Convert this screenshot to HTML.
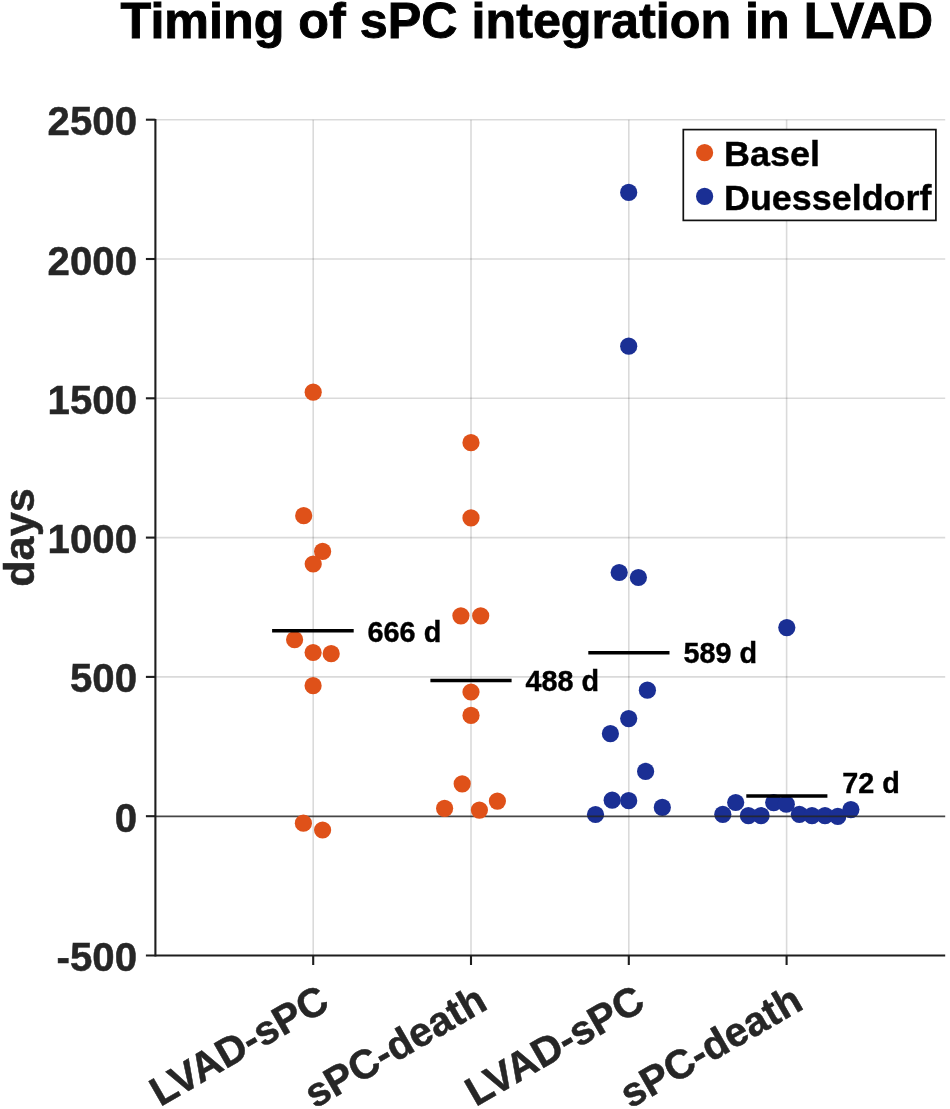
<!DOCTYPE html>
<html lang="en"><head><meta charset="utf-8"><title>Timing of sPC integration in LVAD</title>
<style>html,body{margin:0;padding:0;background:#fff}body{width:950px;height:1109px;overflow:hidden}svg{display:block}text{font-family:"Liberation Sans",Arial,Helvetica,sans-serif;font-weight:bold}</style></head><body>
<svg width="950" height="1109" viewBox="0 0 950 1109">
<rect width="950" height="1109" fill="#fff"/>
<text x="120.6" y="38.4" font-size="50" fill="#000" stroke="#000" stroke-width="0.9" textLength="812.5" lengthAdjust="spacingAndGlyphs">Timing of sPC integration in LVAD</text>
<g stroke="#262626" stroke-opacity="0.17" stroke-width="1.6">
<line x1="155.4" x2="945.2" y1="119.7" y2="119.7"/>
<line x1="155.4" x2="945.2" y1="259.0" y2="259.0"/>
<line x1="155.4" x2="945.2" y1="398.3" y2="398.3"/>
<line x1="155.4" x2="945.2" y1="537.6" y2="537.6"/>
<line x1="155.4" x2="945.2" y1="676.9" y2="676.9"/>
<line x1="313.2" x2="313.2" y1="119.7" y2="955.5"/>
<line x1="471.0" x2="471.0" y1="119.7" y2="955.5"/>
<line x1="628.8" x2="628.8" y1="119.7" y2="955.5"/>
<line x1="786.6" x2="786.6" y1="119.7" y2="955.5"/>
</g>
<g fill="#1A2F94">
<circle cx="628.7" cy="192.4" r="8.6"/>
<circle cx="628.7" cy="346.2" r="8.6"/>
<circle cx="619.2" cy="572.5" r="8.6"/>
<circle cx="638.4" cy="577.5" r="8.6"/>
<circle cx="647.4" cy="690.2" r="8.6"/>
<circle cx="628.7" cy="718.6" r="8.6"/>
<circle cx="610.4" cy="733.7" r="8.6"/>
<circle cx="645.6" cy="771.4" r="8.6"/>
<circle cx="612.2" cy="800.2" r="8.6"/>
<circle cx="628.7" cy="800.7" r="8.6"/>
<circle cx="662.3" cy="807.4" r="8.6"/>
<circle cx="595.5" cy="814.5" r="8.6"/>
<circle cx="786.8" cy="627.6" r="8.6"/>
<circle cx="722.8" cy="814.3" r="8.6"/>
<circle cx="735.7" cy="802.5" r="8.6"/>
<circle cx="748.4" cy="815.7" r="8.6"/>
<circle cx="761.1" cy="815.7" r="8.6"/>
<circle cx="773.7" cy="802.6" r="8.6"/>
<circle cx="786.3" cy="804.2" r="8.6"/>
<circle cx="799.4" cy="814.3" r="8.6"/>
<circle cx="812.0" cy="815.7" r="8.6"/>
<circle cx="825.0" cy="815.7" r="8.6"/>
<circle cx="837.8" cy="816.3" r="8.6"/>
<circle cx="850.9" cy="809.6" r="8.6"/>
</g>
<line x1="155.4" x2="945.2" y1="816.4000000000001" y2="816.4000000000001" stroke="#262626" stroke-opacity="0.85" stroke-width="1.7"/>
<g fill="#DF5119">
<circle cx="313.2" cy="392.2" r="8.6"/>
<circle cx="303.7" cy="515.7" r="8.6"/>
<circle cx="322.6" cy="551.4" r="8.6"/>
<circle cx="313.2" cy="564.0" r="8.6"/>
<circle cx="294.6" cy="639.7" r="8.6"/>
<circle cx="313.1" cy="652.5" r="8.6"/>
<circle cx="331.2" cy="653.7" r="8.6"/>
<circle cx="313.1" cy="685.7" r="8.6"/>
<circle cx="303.4" cy="823.2" r="8.6"/>
<circle cx="322.6" cy="830.0" r="8.6"/>
<circle cx="471" cy="442.7" r="8.6"/>
<circle cx="471" cy="517.9" r="8.6"/>
<circle cx="460.9" cy="615.8" r="8.6"/>
<circle cx="480.7" cy="615.8" r="8.6"/>
<circle cx="471" cy="692" r="8.6"/>
<circle cx="471" cy="715.4" r="8.6"/>
<circle cx="462.2" cy="783.8" r="8.6"/>
<circle cx="497.4" cy="801.1" r="8.6"/>
<circle cx="444.6" cy="808.3" r="8.6"/>
<circle cx="479.4" cy="810.1" r="8.6"/>
</g>
<line x1="272.1" x2="353.7" y1="630.8" y2="630.8" stroke="#000" stroke-width="3.5"/>
<text x="367.6" y="641.9" font-size="28.8" fill="#000" stroke="#000" stroke-width="0.4">666 d</text>
<line x1="430.4" x2="511.6" y1="680.4" y2="680.4" stroke="#000" stroke-width="3.5"/>
<text x="525.5" y="691.4" font-size="28.8" fill="#000" stroke="#000" stroke-width="0.4">488 d</text>
<line x1="588.3" x2="669.5" y1="652.6999999999999" y2="652.6999999999999" stroke="#000" stroke-width="3.5"/>
<text x="683.4" y="662.8" font-size="28.8" fill="#000" stroke="#000" stroke-width="0.4">589 d</text>
<line x1="746.3" x2="827.4" y1="796.0" y2="796.0" stroke="#000" stroke-width="3.5"/>
<text x="842.1999999999999" y="792.7" font-size="28.8" fill="#000" stroke="#000" stroke-width="0.4">72 d</text>
<g stroke="#1e1e1e" stroke-width="2.1" fill="none">
<line x1="155.4" x2="155.4" y1="118.9" y2="956.4"/>
<line x1="145.9" x2="945.2" y1="955.5" y2="955.5"/>
<line x1="145.9" x2="155.4" y1="119.7" y2="119.7"/>
<line x1="145.9" x2="155.4" y1="259.0" y2="259.0"/>
<line x1="145.9" x2="155.4" y1="398.3" y2="398.3"/>
<line x1="145.9" x2="155.4" y1="537.6" y2="537.6"/>
<line x1="145.9" x2="155.4" y1="676.9" y2="676.9"/>
<line x1="145.9" x2="155.4" y1="816.2" y2="816.2"/>
<line x1="313.2" x2="313.2" y1="955.5" y2="965.0"/>
<line x1="471.0" x2="471.0" y1="955.5" y2="965.0"/>
<line x1="628.8" x2="628.8" y1="955.5" y2="965.0"/>
<line x1="786.6" x2="786.6" y1="955.5" y2="965.0"/>
</g>
<g font-size="40.2" fill="#262626" stroke="#262626" stroke-width="0.5" text-anchor="end">
<text x="137" y="135.2">2500</text>
<text x="137" y="274.5">2000</text>
<text x="137" y="413.8">1500</text>
<text x="137" y="553.1">1000</text>
<text x="137" y="692.4">500</text>
<text x="137" y="831.7">0</text>
<text x="137" y="971.0">-500</text>
</g>
<text transform="translate(34.3 537.5) rotate(-90)" font-size="43.3" fill="#262626" stroke="#262626" stroke-width="0.5" text-anchor="middle">days</text>
<g font-size="40.8" fill="#262626" stroke="#262626" stroke-width="0.5" text-anchor="end">
<text transform="translate(331.6 1008.1) rotate(-30)">LVAD-sPC</text>
<text transform="translate(489.4 1008.1) rotate(-30)">sPC-death</text>
<text transform="translate(647.2 1008.1) rotate(-30)">LVAD-sPC</text>
<text transform="translate(805.0 1008.1) rotate(-30)">sPC-death</text>
</g>
<rect x="683.3" y="129.6" width="252.6" height="90.8" fill="#fff" stroke="#111" stroke-width="1.7"/>
<circle cx="704.6" cy="152.7" r="8.6" fill="#DF5119"/>
<circle cx="704.6" cy="196.4" r="8.6" fill="#1A2F94"/>
<text x="724" y="166" font-size="35.3" fill="#000" stroke="#000" stroke-width="0.4" textLength="96" lengthAdjust="spacingAndGlyphs">Basel</text>
<text x="724" y="209.6" font-size="35.3" fill="#000" stroke="#000" stroke-width="0.4" textLength="207.4" lengthAdjust="spacingAndGlyphs">Duesseldorf</text>
</svg></body></html>
